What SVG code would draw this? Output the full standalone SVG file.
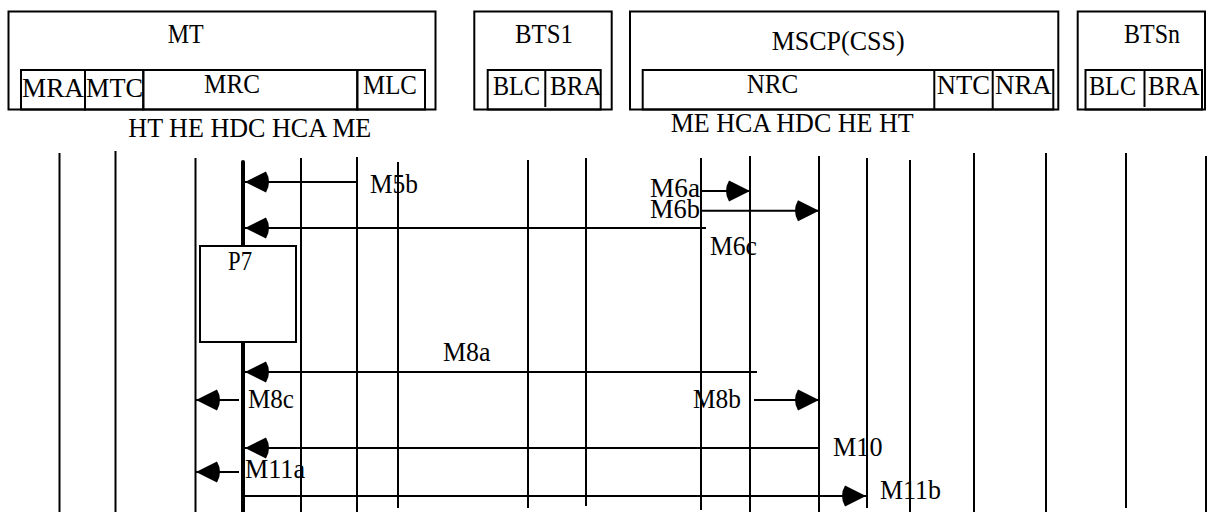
<svg xmlns="http://www.w3.org/2000/svg" width="1215" height="512" viewBox="0 0 1215 512">
<style>
.box{fill:#fff;stroke:#000;stroke-width:2}
.sub{fill:none;stroke:#000;stroke-width:2}
.ll{stroke:#000;stroke-width:2}
.thick{stroke:#000;stroke-width:4;stroke-linecap:round}
.msg{stroke:#000;stroke-width:2;fill:none;marker-end:url(#ah)}
text{font-family:"Liberation Serif","Times New Roman",serif;font-size:26.5px;fill:#000}
</style>
<defs>
<marker id="ah" markerUnits="userSpaceOnUse" markerWidth="28" markerHeight="24" viewBox="0 0 28 24" refX="26" refY="12" orient="auto">
<path d="M26,12 L5,1.5 Q-1,12 5,22.5 Z" fill="#000"/>
</marker>
</defs>
<rect width="1215" height="512" fill="#fff"/>

<g id="lifelines">
<line class="ll" x1="59.5" y1="153" x2="59.5" y2="512"/>
<line class="ll" x1="115.5" y1="151" x2="115.5" y2="512"/>
<line class="ll" x1="195.5" y1="158" x2="195.5" y2="512"/>
<line class="ll" x1="301" y1="158" x2="301" y2="512"/>
<line class="ll" x1="357" y1="157" x2="357" y2="512"/>
<line class="ll" x1="398" y1="162" x2="398" y2="508"/>
<line class="ll" x1="528" y1="160" x2="528" y2="508"/>
<line class="ll" x1="586" y1="158" x2="586" y2="506"/>
<line class="ll" x1="701" y1="158" x2="701" y2="510"/>
<line class="ll" x1="750" y1="156" x2="750" y2="512"/>
<line class="ll" x1="819" y1="156" x2="819" y2="512"/>
<line class="ll" x1="867" y1="158" x2="867" y2="508"/>
<line class="ll" x1="910" y1="160" x2="910" y2="512"/>
<line class="ll" x1="974" y1="153" x2="974" y2="512"/>
<line class="ll" x1="1046" y1="153" x2="1046" y2="512"/>
<line class="ll" x1="1126" y1="153" x2="1126" y2="508"/>
<line class="ll" x1="1206" y1="156" x2="1206" y2="512"/>
<line class="thick" x1="243" y1="162" x2="243" y2="514"/>
</g>

<g id="MT">
<rect class="box" x="8.5" y="11.5" width="427" height="98"/>
<text x="167.7" y="43" textLength="36" lengthAdjust="spacingAndGlyphs">MT</text>
<rect class="sub" x="21" y="70" width="64" height="39.5"/>
<rect class="sub" x="85" y="70" width="58.3" height="39.5"/>
<rect class="sub" x="143.3" y="70" width="214" height="39.5"/>
<rect class="sub" x="357.3" y="70" width="67.7" height="39.5"/>
<text x="22" y="97" textLength="62" lengthAdjust="spacingAndGlyphs">MRA</text>
<text x="86" y="97" textLength="57" lengthAdjust="spacingAndGlyphs">MTC</text>
<text x="204" y="93" textLength="56" lengthAdjust="spacingAndGlyphs">MRC</text>
<text x="363" y="94" textLength="54" lengthAdjust="spacingAndGlyphs">MLC</text>
</g>

<g id="BTS1">
<rect class="box" x="474.3" y="11.5" width="137.4" height="98"/>
<text x="515" y="43" textLength="58" lengthAdjust="spacingAndGlyphs">BTS1</text>
<rect class="sub" x="487.7" y="70" width="113" height="39.5"/>
<line class="ll" x1="545.3" y1="70" x2="545.3" y2="107"/>
<text x="493" y="95" textLength="47" lengthAdjust="spacingAndGlyphs">BLC</text>
<text x="550" y="95" textLength="51.5" lengthAdjust="spacingAndGlyphs">BRA</text>
</g>

<g id="MSCP">
<rect class="box" x="630" y="11.5" width="428.3" height="98"/>
<text x="771.7" y="50" textLength="133" lengthAdjust="spacingAndGlyphs">MSCP(CSS)</text>
<rect class="sub" x="642.7" y="70" width="410.6" height="39.5"/>
<line class="ll" x1="934.3" y1="70" x2="934.3" y2="109.5"/>
<line class="ll" x1="992.7" y1="70" x2="992.7" y2="109.5"/>
<text x="746.7" y="93" textLength="51.6" lengthAdjust="spacingAndGlyphs">NRC</text>
<text x="936.7" y="94" textLength="53.3" lengthAdjust="spacingAndGlyphs">NTC</text>
<text x="995" y="94" textLength="56.7" lengthAdjust="spacingAndGlyphs">NRA</text>
</g>

<g id="BTSn">
<rect class="box" x="1077.7" y="11.5" width="127.3" height="98"/>
<text x="1124" y="43" textLength="56" lengthAdjust="spacingAndGlyphs">BTSn</text>
<rect class="sub" x="1085.5" y="70" width="116.5" height="39.5"/>
<line class="ll" x1="1144.5" y1="70" x2="1144.5" y2="107"/>
<text x="1089" y="95" textLength="47" lengthAdjust="spacingAndGlyphs">BLC</text>
<text x="1148" y="95" textLength="51.5" lengthAdjust="spacingAndGlyphs">BRA</text>
</g>

<g id="entity-labels">
<text x="128.3" y="137" textLength="243" lengthAdjust="spacingAndGlyphs">HT HE HDC HCA ME</text>
<text x="670.7" y="132" textLength="243" lengthAdjust="spacingAndGlyphs">ME HCA HDC HE HT</text>
</g>

<g id="P7">
<rect class="box" x="200" y="246" width="96" height="96"/>
<text x="228" y="270" textLength="24" lengthAdjust="spacingAndGlyphs">P7</text>
</g>

<g id="connectors">
<line class="msg" x1="357" y1="182" x2="245" y2="182"/>
<line class="msg" x1="701" y1="191" x2="750" y2="191"/>
<line class="msg" x1="701" y1="210.7" x2="819" y2="210.7"/>
<line class="msg" x1="706" y1="228" x2="245" y2="228"/>
<line class="msg" x1="757" y1="372" x2="245" y2="372"/>
<line class="msg" x1="239" y1="400" x2="196" y2="400"/>
<line class="msg" x1="754" y1="400" x2="819" y2="400"/>
<line class="msg" x1="819" y1="448" x2="245" y2="448"/>
<line class="msg" x1="239" y1="472" x2="196" y2="472"/>
<line class="msg" x1="244" y1="496" x2="866" y2="496"/>
</g>

<g id="message-labels">
<text x="370" y="193" textLength="48" lengthAdjust="spacingAndGlyphs">M5b</text>
<text x="650" y="197" textLength="50" lengthAdjust="spacingAndGlyphs">M6a</text>
<text x="650" y="218" textLength="50" lengthAdjust="spacingAndGlyphs">M6b</text>
<text x="710" y="255" textLength="47" lengthAdjust="spacingAndGlyphs">M6c</text>
<text x="443" y="361" textLength="47.5" lengthAdjust="spacingAndGlyphs">M8a</text>
<text x="248" y="408" textLength="46" lengthAdjust="spacingAndGlyphs">M8c</text>
<text x="693" y="408" textLength="48" lengthAdjust="spacingAndGlyphs">M8b</text>
<text x="833" y="456" textLength="49.5" lengthAdjust="spacingAndGlyphs">M10</text>
<text x="245" y="478" textLength="60" lengthAdjust="spacingAndGlyphs">M11a</text>
<text x="880" y="499" textLength="61" lengthAdjust="spacingAndGlyphs">M11b</text>
</g>
</svg>
